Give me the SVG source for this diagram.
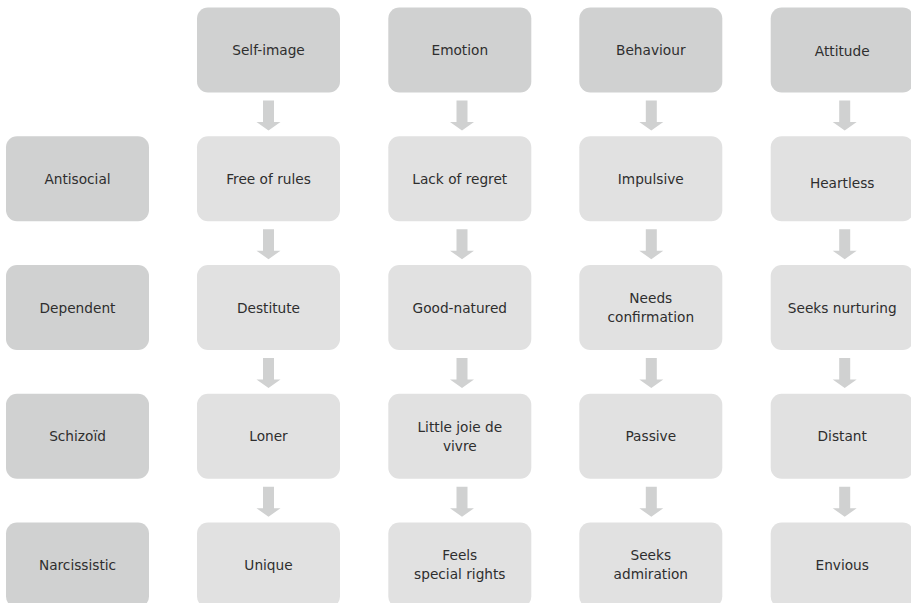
<svg xmlns="http://www.w3.org/2000/svg" xmlns:xlink="http://www.w3.org/1999/xlink" width="911" height="603" viewBox="0 0 911 603">
<style>
.hd{fill:#d0d1d1}
.lt{fill:#e1e1e1}
text{font-family:"DejaVu Sans",Verdana,sans-serif;font-size:13.7px;fill:#2e2e2e;text-anchor:middle}
.ar{fill:#d0d1d1}
</style>
<defs>
<path id="arr" d="M-5.5 0H5.5V21.5H12L0 30L-12 21.5H-5.5Z"/>
</defs>
<rect width="911" height="603" fill="#ffffff"/>
<g id="connectors" class="ar">
<use xlink:href="#arr" x="268.5" y="100.5"/>
<use xlink:href="#arr" x="268.5" y="229.2"/>
<use xlink:href="#arr" x="268.5" y="358"/>
<use xlink:href="#arr" x="268.5" y="486.7"/>
<use xlink:href="#arr" x="462" y="100.5"/>
<use xlink:href="#arr" x="462" y="229.2"/>
<use xlink:href="#arr" x="462" y="358"/>
<use xlink:href="#arr" x="462" y="486.7"/>
<use xlink:href="#arr" x="651.3" y="100.5"/>
<use xlink:href="#arr" x="651.3" y="229.2"/>
<use xlink:href="#arr" x="651.3" y="358"/>
<use xlink:href="#arr" x="651.3" y="486.7"/>
<use xlink:href="#arr" x="844.7" y="100.5"/>
<use xlink:href="#arr" x="844.7" y="229.2"/>
<use xlink:href="#arr" x="844.7" y="358"/>
<use xlink:href="#arr" x="844.7" y="486.7"/>
</g>
<g id="h-selfimage"><rect class="hd" x="197" y="7.5" width="143" height="85" rx="11"/><text x="268.5" y="55">Self-image</text></g>
<g id="h-emotion"><rect class="hd" x="388.3" y="7.5" width="143" height="85" rx="11"/><text x="459.8" y="55">Emotion</text></g>
<g id="h-behaviour"><rect class="hd" x="579.3" y="7.5" width="143" height="85" rx="11"/><text x="650.8" y="55">Behaviour</text></g>
<g id="h-attitude"><rect class="hd" x="770.7" y="7.5" width="143" height="85" rx="11"/><text x="842.2" y="56">Attitude</text></g>

<g id="r-antisocial"><rect class="hd" x="6" y="136.2" width="143" height="85" rx="11"/><text x="77.5" y="183.5">Antisocial</text></g>
<g id="r-dependent"><rect class="hd" x="6" y="265" width="143" height="85" rx="11"/><text x="77.5" y="312.5">Dependent</text></g>
<g id="r-schizoid"><rect class="hd" x="6" y="393.7" width="143" height="85" rx="11"/><text x="77.5" y="441.2">Schizoïd</text></g>
<g id="r-narcissistic"><rect class="hd" x="6" y="522.5" width="143" height="85" rx="11"/><text x="77.5" y="570">Narcissistic</text></g>

<g id="c11"><rect class="lt" x="197" y="136.2" width="143" height="85" rx="11"/><text x="268.5" y="183.5">Free of rules</text></g>
<g id="c12"><rect class="lt" x="388.3" y="136.2" width="143" height="85" rx="11"/><text x="459.8" y="183.5">Lack of regret</text></g>
<g id="c13"><rect class="lt" x="579.3" y="136.2" width="143" height="85" rx="11"/><text x="650.8" y="183.5">Impulsive</text></g>
<g id="c14"><rect class="lt" x="770.7" y="136.2" width="143" height="85" rx="11"/><text x="842.2" y="187.5">Heartless</text></g>

<g id="c21"><rect class="lt" x="197" y="265" width="143" height="85" rx="11"/><text x="268.5" y="312.5">Destitute</text></g>
<g id="c22"><rect class="lt" x="388.3" y="265" width="143" height="85" rx="11"/><text x="459.8" y="312.5">Good-natured</text></g>
<g id="c23"><rect class="lt" x="579.3" y="265" width="143" height="85" rx="11"/><text x="650.8" y="302.5">Needs</text><text x="650.8" y="321.5">confirmation</text></g>
<g id="c24"><rect class="lt" x="770.7" y="265" width="143" height="85" rx="11"/><text x="842.2" y="312.5">Seeks nurturing</text></g>

<g id="c31"><rect class="lt" x="197" y="393.7" width="143" height="85" rx="11"/><text x="268.5" y="441.2">Loner</text></g>
<g id="c32"><rect class="lt" x="388.3" y="393.7" width="143" height="85" rx="11"/><text x="459.8" y="431.5">Little joie de</text><text x="459.8" y="450.5">vivre</text></g>
<g id="c33"><rect class="lt" x="579.3" y="393.7" width="143" height="85" rx="11"/><text x="650.8" y="441.2">Passive</text></g>
<g id="c34"><rect class="lt" x="770.7" y="393.7" width="143" height="85" rx="11"/><text x="842.2" y="441.2">Distant</text></g>

<g id="c41"><rect class="lt" x="197" y="522.5" width="143" height="85" rx="11"/><text x="268.5" y="570">Unique</text></g>
<g id="c42"><rect class="lt" x="388.3" y="522.5" width="143" height="85" rx="11"/><text x="459.8" y="560">Feels</text><text x="459.8" y="579">special rights</text></g>
<g id="c43"><rect class="lt" x="579.3" y="522.5" width="143" height="85" rx="11"/><text x="650.8" y="560">Seeks</text><text x="650.8" y="579">admiration</text></g>
<g id="c44"><rect class="lt" x="770.7" y="522.5" width="143" height="85" rx="11"/><text x="842.2" y="570">Envious</text></g>
</svg>
